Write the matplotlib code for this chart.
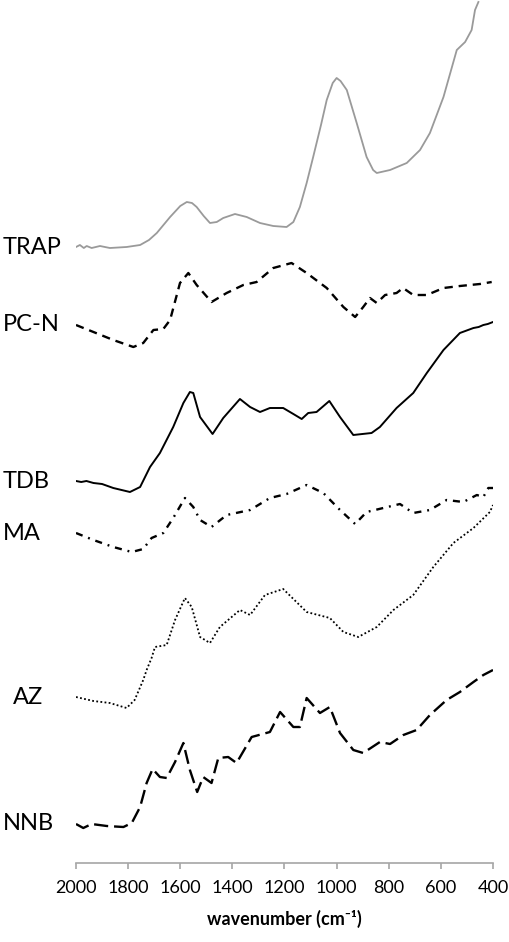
import numpy as np
import matplotlib.pyplot as plt
from matplotlib.transforms import blended_transform_factory

plt.rcParams['font.family'] = ['Lato', 'DejaVu Sans']

# wavenumbers (cm-1) and stacked spectra, values relative to each baseline offset
w_trap = [2000, 1985, 1970, 1959, 1940, 1908, 1870, 1806, 1754, 1720, 1690, 1639, 1600, 1575,
          1555, 1537, 1510, 1486, 1460, 1435, 1390, 1345, 1294, 1243, 1192, 1166, 1141, 1115,
          1090, 1060, 1038, 1015, 1000, 985, 961, 923, 885, 860, 846, 795, 731, 680, 642, 590,
          539, 507, 482, 469, 456]
trap = [-0.04, -0.02, -0.05, -0.03, -0.05, -0.03, -0.05, -0.04, -0.02, 0.03, 0.10, 0.26, 0.37,
        0.41, 0.40, 0.36, 0.27, 0.20, 0.21, 0.25, 0.29, 0.26, 0.20, 0.17, 0.16, 0.21, 0.36, 0.60,
        0.86, 1.18, 1.43, 1.60, 1.65, 1.62, 1.53, 1.20, 0.86, 0.73, 0.70, 0.73, 0.80, 0.93, 1.10,
        1.46, 1.93, 2.01, 2.13, 2.33, 2.41]

w_pcn = [2000, 1933, 1857, 1780, 1742, 1703, 1665, 1639, 1601, 1569, 1537, 1480, 1422, 1358,
         1307, 1243, 1173, 1115, 1038, 974, 929, 898, 872, 846, 814, 770, 745, 706, 654,
         590, 527, 450, 405]
pcn = [-0.02, -0.09, -0.17, -0.24, -0.20, -0.07, -0.06, 0.03, 0.40, 0.50, 0.38, 0.21, 0.30, 0.38,
       0.41, 0.55, 0.60, 0.50, 0.35, 0.16, 0.06, 0.16, 0.25, 0.20, 0.28, 0.30, 0.35, 0.28, 0.28,
       0.35, 0.37, 0.39, 0.41]

w_tdb = [2000, 1980, 1960, 1933, 1900, 1857, 1793, 1754, 1716, 1678, 1627, 1588, 1563, 1550,
         1524, 1476, 1435, 1371, 1332, 1294, 1256, 1205, 1166, 1134, 1109, 1077, 1028, 987,
         936, 866, 834, 770, 706, 654, 590, 527, 475, 455, 437, 420, 400]
tdb = [0.02, 0.01, 0.02, 0.00, -0.01, -0.05, -0.09, -0.04, 0.16, 0.30, 0.56, 0.80, 0.91, 0.90,
       0.66, 0.49, 0.65, 0.84, 0.76, 0.71, 0.75, 0.75, 0.69, 0.64, 0.70, 0.71, 0.82, 0.66,
       0.48, 0.50, 0.56, 0.75, 0.90, 1.10, 1.33, 1.50, 1.55, 1.56, 1.58, 1.59, 1.61]

w_ma = [2000, 1933, 1857, 1786, 1742, 1710, 1665, 1627, 1582, 1550, 1524, 1480, 1422, 1332,
        1256, 1192, 1115, 1051, 987, 929, 885, 821, 757, 706, 642, 578, 514, 462, 437, 418, 400]
ma = [0.00, -0.07, -0.14, -0.19, -0.16, -0.05, 0.00, 0.15, 0.35, 0.26, 0.13, 0.06, 0.18, 0.23,
      0.35, 0.39, 0.48, 0.40, 0.23, 0.09, 0.21, 0.25, 0.29, 0.20, 0.23, 0.33, 0.31, 0.38, 0.36,
      0.45, 0.45]

w_az = [2000, 1933, 1870, 1806, 1775, 1742, 1729, 1710, 1697, 1652, 1620, 1582, 1556, 1524,
        1486, 1448, 1371, 1332, 1275, 1205, 1115, 1026, 974, 917, 846, 782, 706, 629, 552,
        475, 412, 400]
az = [0.06, 0.02, 0.00, -0.05, 0.03, 0.23, 0.33, 0.45, 0.56, 0.58, 0.83, 1.05, 0.96, 0.66,
      0.60, 0.76, 0.93, 0.88, 1.08, 1.14, 0.91, 0.85, 0.71, 0.66, 0.76, 0.93, 1.08, 1.36, 1.60,
      1.75, 1.91, 1.98]

w_nnb = [2000, 1972, 1940, 1882, 1818, 1786, 1754, 1729, 1706, 1678, 1652, 1620, 1588, 1563,
         1535, 1512, 1480, 1454, 1416, 1384, 1326, 1256, 1217, 1166, 1141, 1115, 1064, 1026,
         987, 936, 898, 834, 795, 744, 693, 642, 578, 527, 475, 437, 400]
nnb = [-0.01, -0.05, -0.01, -0.03, -0.04, 0.00, 0.16, 0.40, 0.54, 0.46, 0.45, 0.61, 0.80, 0.53,
       0.31, 0.46, 0.40, 0.65, 0.66, 0.60, 0.86, 0.91, 1.11, 0.96, 0.96, 1.25, 1.10, 1.16,
       0.90, 0.73, 0.70, 0.81, 0.79, 0.88, 0.93, 1.08, 1.23, 1.31, 1.41, 1.48, 1.53]

names = ['TRAP', 'PC-N', 'TDB', 'MA', 'AZ', 'NNB']
offsets = [6.2, 5.4, 3.8, 3.3, 1.6, 0.4]

series = [(w_trap, trap), (w_pcn, pcn), (w_tdb, tdb), (w_ma, ma), (w_az, az), (w_nnb, nnb)]
styles = [
    dict(color='#9a9a9a', lw=1.3, ls='-'),
    dict(color='black', lw=1.7, ls=(0, (3.5, 2.5))),
    dict(color='black', lw=1.4, ls='-'),
    dict(color='black', lw=1.7, ls=(0, (3, 2.5, 0.8, 2.5))),
    dict(color='black', lw=1.3, ls=(0, (1, 1.3))),
    dict(color='black', lw=1.7, ls=(0, (6, 2.5))),
]

fig = plt.figure(figsize=(5.1, 9.42), dpi=100)
ax = fig.add_axes([76/510, 1 - 863/942, 417/510, 863/942])

for (w, v), off, st in zip(series, offsets, styles):
    ax.plot(w, np.array(v) + off, **st)

trans = blended_transform_factory(fig.transFigure, ax.transData)
label_x = {'AZ': 13/510}
for name, (w, v), off in zip(names, series, offsets):
    ax.text(label_x.get(name, 3/510), off + v[0], name, fontsize=17,
            ha='left', va='center', transform=trans)

ax.set_xlim(2000, 400)
ax.set_ylim(0, 8.63)
ax.set_xticks(np.arange(2000, 399, -200))
ax.set_yticks([])
for s in ['top', 'right', 'left']:
    ax.spines[s].set_visible(False)
ax.spines['bottom'].set_color('#a6a6a6')
ax.spines['bottom'].set_linewidth(1.2)
ax.tick_params(axis='x', direction='out', length=4, width=1.2, color='#a6a6a6',
               labelsize=13, pad=8)
ax.set_xlabel('wavenumber (cm\u207b\u00b9)', fontsize=13, fontweight='bold', labelpad=10)

fig.savefig('out.png', dpi=100)
